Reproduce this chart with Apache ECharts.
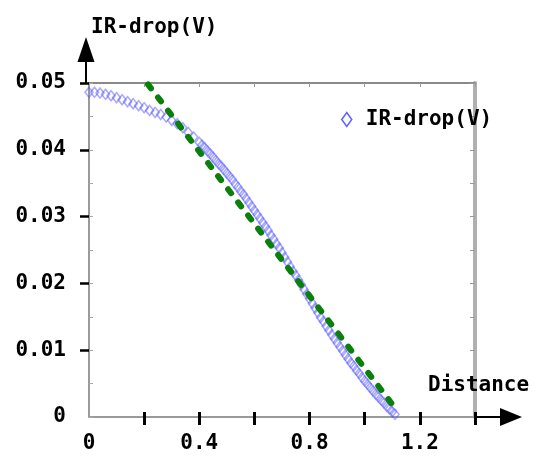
<!DOCTYPE html>
<html>
<head>
<meta charset="utf-8">
<script src="https://cdn.jsdelivr.net/npm/echarts@6/dist/echarts.min.js"></script>
<style>html,body{margin:0;padding:0;background:#fff;}#chart{width:533px;height:459px;}</style>
</head>
<body>
<div id="chart"></div>
<script>
// Measured IR-drop (V) vs distance
const distance = [0.00,0.02,0.04,0.06,0.08,0.10,0.12,0.14,0.16,0.18,0.20,0.22,0.24,0.26,0.28,0.30,0.32,0.34,0.36,0.38,0.40,
  0.41,0.42,0.43,0.44,0.45,0.46,0.47,0.48,0.49,0.50,0.51,0.52,0.53,0.54,0.55,0.56,0.57,0.58,0.59,0.60,
  0.61,0.62,0.63,0.64,0.65,0.66,0.67,0.68,0.69,0.70,0.71,0.72,0.73,0.74,0.75,0.76,0.77,0.78,0.79,0.80,
  0.81,0.82,0.83,0.84,0.85,0.86,0.87,0.88,0.89,0.90,0.91,0.92,0.93,0.94,0.95,0.96,0.97,0.98,0.99,1.00,
  1.01,1.02,1.03,1.04,1.05,1.06,1.07,1.08,1.09,1.10,1.11];
const irDrop = [0.0486,0.0486,0.0485,0.0483,0.0481,0.0478,0.0475,0.0472,0.0469,0.0466,0.0463,0.0459,0.0456,0.0453,0.0449,0.0444,0.0439,0.0433,0.0426,0.0419,0.0411,
  0.0407,0.0403,0.0398,0.0394,0.0389,0.0384,0.0379,0.0375,0.0370,0.0365,0.0360,0.0355,0.0349,0.0344,0.0338,0.0333,0.0327,0.0321,0.0315,0.0309,
  0.0303,0.0297,0.0291,0.0285,0.0279,0.0272,0.0266,0.0259,0.0253,0.0246,0.0239,0.0232,0.0225,0.0218,0.0212,0.0205,0.0198,0.0191,0.0184,0.0177,
  0.0170,0.0163,0.0156,0.0149,0.0143,0.0136,0.0130,0.0123,0.0117,0.0111,0.0105,0.0099,0.0093,0.0087,0.0081,0.0076,0.0070,0.0065,0.0059,0.0054,
  0.0049,0.0044,0.0039,0.0034,0.0030,0.0025,0.0021,0.0016,0.0012,0.0008,0.0004];
// Linear fit (green dashed)
const fitDistance = [0.214, 1.11];
const fitDrop = [0.0498, 0.00135];
// Ticks and labels
const xTickValues = [0.2,0.4,0.6,0.8,1.0,1.2,1.4];
const xLabelValues = [0,0.4,0.8,1.2];
const yTickValues = [0.01,0.02,0.03,0.04,0.05];
const yLabelValues = [0,0.01,0.02,0.03,0.04,0.05];
const seriesName = 'IR-drop(V)';
const xTitle = 'Distance';
const yTitle = 'IR-drop(V)';

const FONT = 'DejaVu Sans Mono';
const FS = 21;
const FW = 'bold';
const chart = echarts.init(document.getElementById('chart'), null, {renderer: 'canvas'});

const scatterData = distance.map((d, i) => [d, irDrop[i]]);
const fitData = fitDistance.map((d, i) => [d, fitDrop[i]]);

const hidden = {show: false};
const txt = {fontFamily: FONT, fontSize: FS, fontWeight: FW, color: '#000'};
chart.setOption({
  animation: false,
  backgroundColor: '#ffffff',
  title: [
    {text: yTitle, left: 86, top: 12, textStyle: txt},
    {text: xTitle, left: 423, top: 370, textStyle: txt}
  ],
  legend: {
    data: [{name: seriesName, icon: 'diamond', itemStyle: {color: '#ffffff', borderColor: '#3a3aff', borderWidth: 1.5}}],
    left: 336, top: 104, itemWidth: 10, itemHeight: 14, symbolKeepAspect: false,
    textStyle: Object.assign({}, txt, {padding: [0, 0, 0, 9]})
  },
  grid: [
    {left: 89, right: 58, top: 83, bottom: 42},
    {left: 475, right: 22, bottom: 42, height: 1},
    {left: 86, width: 1, top: 49.5, bottom: 376}
  ],
  xAxis: [
    {type: 'value', gridIndex: 0, position: 'bottom', min: 0, max: 1.4, interval: 0.2,
     axisLine: {show: true, onZero: false, lineStyle: {color: '#9a9a9a', width: 2}},
     axisTick: {show: true, customValues: xTickValues, length: 8, lineStyle: {color: '#000', width: 3}},
     axisLabel: Object.assign({customValues: xLabelValues, margin: 16, formatter: v => String(v)}, txt),
     splitLine: hidden},
    {type: 'value', gridIndex: 0, position: 'bottom', min: 0, max: 1.4, interval: 0.2,
     axisLine: {show: false, onZero: false}, axisLabel: hidden, splitLine: hidden,
     axisTick: {show: true, inside: true, customValues: xTickValues, length: 5, lineStyle: {color: '#000', width: 3}}},
    {type: 'value', gridIndex: 0, position: 'top', min: 0, max: 1.4, interval: 0.2,
     axisLine: {show: true, onZero: false, lineStyle: {color: '#8a8a8a', width: 2}}, axisLabel: hidden, splitLine: hidden,
     axisTick: {show: true, inside: true, length: 4, lineStyle: {color: '#9a9a9a', width: 1}}},
    {type: 'value', gridIndex: 1, min: 0, max: 1,
     axisLine: {show: true, onZero: false, symbol: ['none', 'triangle'], symbolSize: [18, 22], lineStyle: {color: '#000', width: 2}},
     axisTick: hidden, axisLabel: hidden, splitLine: hidden},
    {type: 'value', gridIndex: 2, show: false, min: 0, max: 1}
  ],
  yAxis: [
    {type: 'value', gridIndex: 0, position: 'left', min: 0, max: 0.05, interval: 0.01,
     axisLine: {show: true, onZero: false, lineStyle: {color: '#9a9a9a', width: 2}},
     axisTick: {show: true, customValues: yTickValues, length: 9, lineStyle: {color: '#000', width: 2.5}},
     axisLabel: Object.assign({customValues: yLabelValues, margin: 23, formatter: v => String(v)}, txt),
     splitLine: hidden},
    {type: 'value', gridIndex: 0, position: 'left', min: 0, max: 0.05, interval: 0.005,
     axisLine: {show: false, onZero: false}, axisLabel: hidden, splitLine: hidden,
     axisTick: {show: true, inside: true, length: 4, lineStyle: {color: '#aaaaaa', width: 1}}},
    {type: 'value', gridIndex: 0, position: 'right', min: 0, max: 0.05, interval: 0.005,
     axisLine: {show: true, onZero: false, lineStyle: {color: '#b0b0b0', width: 4}}, axisLabel: hidden, splitLine: hidden,
     axisTick: {show: true, inside: true, length: 5, lineStyle: {color: '#9a9a9a', width: 1}}},
    {type: 'value', gridIndex: 1, show: false, min: 0, max: 1},
    {type: 'value', gridIndex: 2, min: 0, max: 1,
     axisLine: {show: true, onZero: false, symbol: ['none', 'triangle'], symbolSize: [17, 25], lineStyle: {color: '#000', width: 2}},
     axisTick: hidden, axisLabel: hidden, splitLine: hidden}
  ],
  series: [
    {name: seriesName, type: 'scatter', xAxisIndex: 0, yAxisIndex: 0, data: scatterData,
     symbol: 'diamond', symbolSize: [8, 10],
     itemStyle: {color: 'rgba(255,255,255,0)', borderColor: 'rgba(80,80,255,0.6)', borderWidth: 1.6},
     z: 2},
    {name: 'fit', type: 'line', xAxisIndex: 0, yAxisIndex: 0, data: fitData,
     showSymbol: false, symbol: 'none',
     lineStyle: {color: '#0a7f0a', width: 6, type: [5, 11.5], cap: 'round'},
     z: 3}
  ]
});
</script>
</body>
</html>
